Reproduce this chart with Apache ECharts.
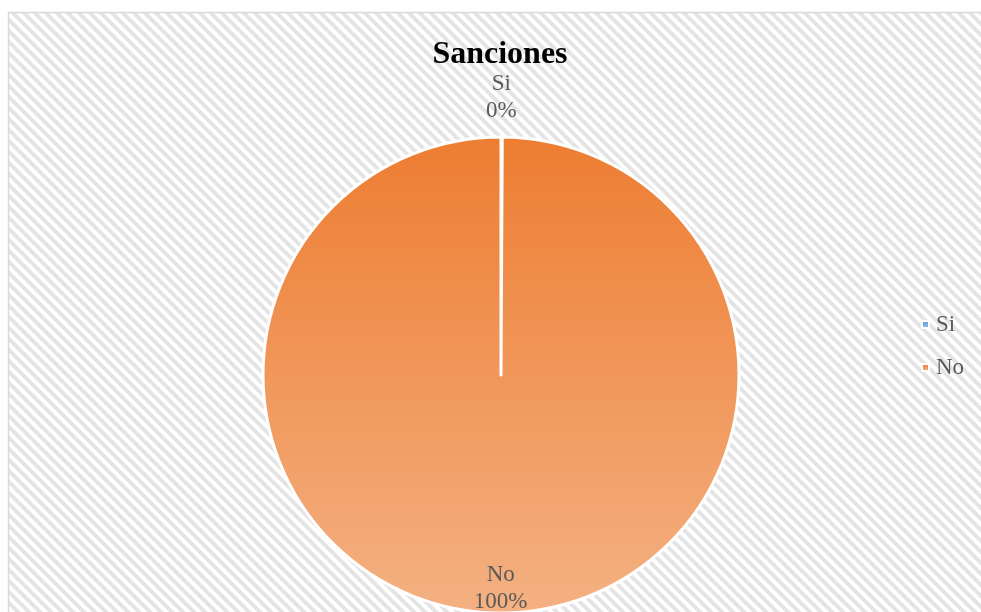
<!DOCTYPE html>
<html>
<head>
<meta charset="utf-8">
<script src="https://cdn.jsdelivr.net/npm/echarts@6/dist/echarts.min.js"></script>
<style>
html,body{margin:0;padding:0;background:#fff;}
#chart{width:981px;height:612px;}
</style>
</head>
<body>
<div id="chart"></div>
<script>
const titleText = 'Sanciones';
const categories = ['Si', 'No'];
const values = [0, 100];

const FONT = '"Liberation Serif", "Times New Roman", serif';

// hatch pattern
const T = 11;
const pat = document.createElement('canvas');
pat.width = T; pat.height = T;
const pc = pat.getContext('2d');
pc.fillStyle = '#ffffff';
pc.fillRect(0, 0, T, T);
pc.strokeStyle = '#e4e4e4';
pc.lineWidth = 4;
for (let c = -T; c <= T; c += T) {
  pc.beginPath();
  pc.moveTo(-T, -T + c);
  pc.lineTo(2 * T, 2 * T + c);
  pc.stroke();
}

const sliceColors = [
  new echarts.graphic.LinearGradient(0, 0, 0, 1, [
    {offset: 0, color: '#5B9BD5'}, {offset: 1, color: '#9DC3E6'}
  ]),
  new echarts.graphic.LinearGradient(0, 0, 0, 1, [
    {offset: 0, color: '#ED7D31'}, {offset: 1, color: '#F4B183'}
  ])
];

const labelDy = [-156, 91];

const chart = echarts.init(document.getElementById('chart'), null, {renderer: 'canvas'});
chart.setOption({
  animation: false,
  backgroundColor: '#ffffff',
  graphic: [{
    type: 'rect',
    z: -10,
    silent: true,
    shape: {x: 8.5, y: 12.5, width: 990, height: 620},
    style: {fill: {image: pat, repeat: 'repeat'}, stroke: '#d9d9d9', lineWidth: 1.5}
  }],
  title: {
    text: titleText,
    left: 495,
    top: 34,
    textAlign: 'center',
    textStyle: {fontFamily: FONT, fontWeight: 'bold', fontSize: 32, color: '#000000'}
  },
  legend: {
    orient: 'vertical',
    left: 916,
    top: 308,
    itemWidth: 7,
    itemHeight: 7,
    itemGap: 20,
    icon: 'rect',
    data: categories,
    textStyle: {fontFamily: FONT, fontSize: 23, color: '#595959', padding: [0, 0, 0, 2]}
  },
  series: [{
    type: 'pie',
    center: [501, 375],
    radius: 238,
    startAngle: 90,
    clockwise: true,
    avoidLabelOverlap: false,
    minAngle: 0.3,
    itemStyle: {borderColor: '#ffffff', borderWidth: 3},
    label: {
      show: true,
      position: 'inside',
      fontFamily: FONT,
      fontSize: 23,
      lineHeight: 27,
      color: '#595959',
      formatter: p => p.name + '\n' + Math.round(p.percent) + '%'
    },
    labelLine: {show: false},
    labelLayout: p => ({dy: labelDy[p.dataIndex]}),
    emphasis: {disabled: true},
    data: categories.map((c, i) => ({name: c, value: values[i], itemStyle: {color: sliceColors[i]}}))
  }]
});
</script>
</body>
</html>
